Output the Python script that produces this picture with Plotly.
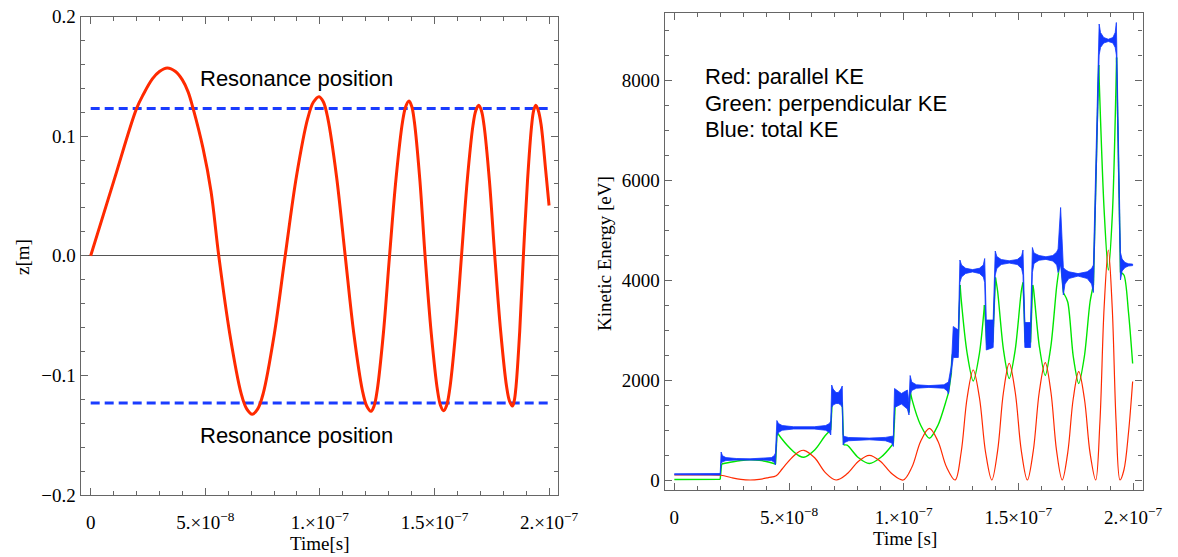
import plotly.graph_objects as go

NS = 1e-9  # nanoseconds -> seconds

# ---------------- left panel: axial position ----------------
z_time_ns = [0, 10, 20, 23, 27, 30, 33.4, 37, 40, 42.5, 44.7, 49, 52.5, 55.88,
             60.75, 65.63, 68.07, 70.5, 72.9, 75.29, 80.07, 84.86,
             89.79, 94.72, 97.19, 99.65, 101.55, 103.45, 107.25, 111.05,
             114.8, 118.55, 120.43, 122.3, 123.65, 125.0, 127.7, 130.4,
             133.23, 136.07, 137.49, 138.9, 140.07, 141.23, 143.57, 145.9,
             148.6, 151.3, 152.65, 154.0, 155.3, 156.6, 159.2, 161.8,
             164.3, 166.8, 168.05, 169.3, 170.47, 171.63, 173.97, 176.3,
             178.87, 181.43, 182.72, 184.0, 184.8, 185.6, 187.2, 188.8,
             190.6, 192.4, 193.3, 194.2, 195.3, 196.5, 198.5, 200.0]
z_pos_m = [0, 0.062, 0.123, 0.135, 0.148, 0.154, 0.157, 0.154, 0.147, 0.137, 0.123, 0.09, 0.054, 0,
           -0.066, -0.115, -0.128, -0.1325, -0.128, -0.115, -0.066, 0,
           0.0665, 0.115, 0.1285, 0.133, 0.1285, 0.115, 0.0665, 0,
           -0.065, -0.1126, -0.1256, -0.130, -0.1256, -0.1126, -0.065, 0,
           0.0647, 0.112, 0.1249, 0.1293, 0.1249, 0.112, 0.0647, 0,
           -0.0648, -0.1122, -0.1252, -0.1296, -0.1252, -0.1122, -0.0648, 0,
           0.0629, 0.109, 0.1215, 0.1258, 0.1215, 0.109, 0.0629, 0,
           -0.0629, -0.1089, -0.1214, -0.1257, -0.1214, -0.1089, -0.0629, 0,
           0.0629, 0.109, 0.1215, 0.1258, 0.1215, 0.11, 0.072, 0.042]
resonance_z_m = [0.123, -0.123]
resonance_span_ns = [0, 200]

# ---------------- right panel: kinetic energies ----------------
par_time_ns = [0, 10, 20.3, 25, 29, 33, 37, 41, 44.4, 47, 49, 52, 54.5, 56.5, 61.17, 65.83,
               70.5, 75.33, 80.17, 85, 89.93, 94.87, 99.8, 103.6, 107.4, 111.2, 114.93, 118.67,
               122.4, 125.03, 127.67, 130.3, 133.0, 135.7, 138.4, 140.93, 143.47, 146.0, 148.63,
               151.27, 153.9, 156.5, 159.1, 161.7, 164.17, 166.63, 169.1, 171.5, 173.9, 176.3,
               178.77, 181.23, 183.7, 185.53, 187.37, 189.2, 190.9, 192.6, 194.3, 196, 198, 199.8]
par_ev = [100, 100, 95, 45, 12, 0, 12, 48, 86, 220, 333, 480, 570, 594, 445, 148,
          0, 124, 370, 494, 370, 124, 0, 258, 775, 1034, 775, 258,
          0, 550, 1650, 2200, 1650, 550, 0, 583, 1750, 2333, 1750,
          583, 0, 587, 1760, 2347, 1760, 587, 0, 542, 1625, 2167,
          1625, 542, 0, 1150, 3450, 4600, 3450, 1150, 0, 200, 950, 1970]

# perpendicular KE: smooth pieces separated by None where the energy jumps
perp_time_ns = [0, 20.0, None,
                20.6, 25, 29, 33, 37, 41, 44.1, None,
                44.8, 47, 49, 52, 54.5, 56.5, 61.17, 65.83, 68.2, None,
                68.8, 71, 73.2, None,
                73.8, 75.33, 80.17, 85, 89.93, 94.87, 95.5, None,
                96.3, 99, 101.8, 102.3, None,
                102.9, 103.6, 107.4, 111.2, 114.93, 118.67, 119.6, None,
                120.8, 121.6, 123.6, None,
                124.6, 125.03, 127.67, 130.3, 133.0, 135.2, None,
                136.2, 138.8, None,
                140.0, 140.93, 143.47, 146.0, 148.63, 151.27, 152.0, None,
                153.0, 155.3, None,
                156.2, 156.5, 159.1, 161.7, 164.17, 166.63, 167.5, None,
                168.4, None,
                169.6, 171.5, 173.9, 176.3, 178.77, 181.23, 182.7, None,
                185.0, 187.37, 189.2, 191.0, 192.8, None,
                194.5, 196, 198, 199.8]
perp_ev = [10, 12, None,
           320, 360, 390, 405, 395, 360, 320, None,
           950, 815, 705, 565, 480, 455, 600, 890, 1000, None,
           1550, 1600, 1550, None,
           700, 696, 450, 330, 450, 696, 740, None,
           1500, 1580, 1500, 1350, None,
           1760, 1612, 1095, 836, 1095, 1612, 1760, None,
           2150, 2550, 2550, None,
           3900, 3630, 2530, 1980, 2530, 3500, None,
           2700, 2750, None,
           4050, 3780, 2610, 2030, 2610, 3780, 3950, None,
           2750, 2750, None,
           3900, 3850, 2680, 2090, 2680, 3850, 4150, None,
           4500, None,
           3750, 3560, 2475, 1930, 2475, 3560, 3900, None,
           8300, 5400, 4200, 5350, 8450, None,
           4150, 4100, 3350, 2330]

# total KE: lower / upper envelope of the fast gyration band, plateau by plateau
tot_time_ns = [0, 20.0,
               20.4, 21.0, 22.5, 27, 33, 39, 42.3, 43.5, 44.1,
               44.7, 45.4, 47, 52, 61, 66, 67.6, 68.2,
               68.6, 69.2, 70.5, 71.5, 72.6, 73.2,
               73.6, 74.2, 76, 85, 92, 94.8, 95.5,
               96.0, 99, 101.6, 102.3,
               102.8, 103.5, 105.5, 111, 117.5, 119.0, 119.5,
               120.8, 121.6, 123.8,
               124.5, 125.2, 127, 130, 133, 134.7, 135.3,
               136.0, 139.0,
               139.9, 140.6, 142.5, 146, 149.5, 151.4, 152.0,
               152.8, 155.3,
               156.1, 156.8, 159, 162, 165, 166.7, 167.3,
               168.4,
               169.6, 170.3, 172, 176, 180, 181.9, 182.7,
               185.2, 185.8, 187.2, 189.2, 191.2, 192.2, 192.7,
               194.5, 195.2, 196.5, 198, 199.8]
tot_lo_ev = [105, 100,
             330, 365, 388, 398, 402, 398, 388, 360, 300,
             880, 950, 995, 1020, 1020, 995, 950, 900,
             1450, 1500, 1530, 1530, 1500, 1450,
             700, 750, 785, 805, 785, 740, 670,
             1450, 1520, 1420, 1300,
             1700, 1790, 1835, 1852, 1835, 1780, 1720,
             2150, 2450, 2450,
             3950, 4060, 4130, 4162, 4130, 4060, 3950,
             2600, 2650,
             4100, 4230, 4310, 4338, 4310, 4230, 4100,
             2650, 2650,
             4150, 4330, 4395, 4412, 4380, 4300, 4150,
             4300,
             3700, 3920, 4030, 4078, 4030, 3920, 3750,
             8500, 8650, 8740, 8770, 8740, 8650, 8500,
             4000, 4180, 4250, 4280, 4288]
tot_hi_ev = [125, 130,
             560, 485, 448, 430, 424, 430, 448, 485, 540,
             1190, 1130, 1090, 1065, 1065, 1090, 1130, 1180,
             1900, 1820, 1750, 1750, 1820, 1880,
             900, 870, 850, 838, 852, 870, 880,
             1830, 1730, 1800, 1550,
             2090, 1960, 1905, 1888, 1905, 1940, 1960,
             2300, 3070, 3000,
             4400, 4300, 4235, 4208, 4235, 4300, 4430,
             3200, 3200,
             4580, 4470, 4410, 4385, 4410, 4480, 4600,
             3150, 3150,
             4650, 4540, 4490, 4465, 4490, 4560, 4620,
             5450,
             4250, 4210, 4165, 4128, 4165, 4230, 4300,
             9120, 8950, 8850, 8815, 8850, 8950, 9150,
             4550, 4420, 4350, 4325, 4318]

# ---------------- ticks ----------------
time_tick_s = [0, 5e-8, 1e-7, 1.5e-7, 2e-7]
time_tick_text = ["0", "5.×10<sup>−8</sup>", "1.×10<sup>−7</sup>",
                  "1.5×10<sup>−7</sup>", "2.×10<sup>−7</sup>"]
z_tick_vals = [-0.2, -0.1, 0.0, 0.1, 0.2]
z_tick_text = ["−0.2", "−0.1", "0.0", "0.1", "0.2"]
ke_tick_vals = [0, 2000, 4000, 6000, 8000]
ke_tick_text = ["0", "2000", "4000", "6000", "8000"]

RED = "#ff2a00"
GREEN = "#00e600"
BLUE = "#1238ff"
SERIF = "Liberation Serif"
SANS = "Liberation Sans"

W, H = 1178, 557


def sec(vals):
    return [None if v is None else v * NS for v in vals]


fig = go.Figure()

# resonance markers
for zr in resonance_z_m:
    fig.add_trace(go.Scatter(x=sec(resonance_span_ns), y=[zr, zr], mode="lines",
                             line=dict(color="#1a3cff", width=3, dash="9px,5px"),
                             xaxis="x", yaxis="y", hoverinfo="skip"))
fig.add_trace(go.Scatter(x=sec(z_time_ns), y=z_pos_m, mode="lines",
                         line=dict(color=RED, width=3, shape="spline", smoothing=1.0),
                         xaxis="x", yaxis="y"))

# perpendicular KE (green): smooth pieces plus straight jumps between pieces
fig.add_trace(go.Scatter(x=sec(perp_time_ns), y=perp_ev, mode="lines",
                         line=dict(color=GREEN, width=1.4, shape="spline", smoothing=0.8),
                         connectgaps=False, xaxis="x2", yaxis="y2"))
jx, jy = [], []
for i, v in enumerate(perp_time_ns):
    if v is None:
        jx += [perp_time_ns[i - 1] * NS, perp_time_ns[i + 1] * NS, None]
        jy += [perp_ev[i - 1], perp_ev[i + 1], None]
fig.add_trace(go.Scatter(x=jx, y=jy, mode="lines", line=dict(color=GREEN, width=1.4),
                         xaxis="x2", yaxis="y2"))

# parallel KE (red)
fig.add_trace(go.Scatter(x=sec(par_time_ns), y=par_ev, mode="lines",
                         line=dict(color=RED, width=1.2, shape="spline", smoothing=1.0),
                         xaxis="x2", yaxis="y2"))

# total KE (blue) band
band_x = sec(tot_time_ns) + sec(tot_time_ns[::-1])
band_y = tot_hi_ev + tot_lo_ev[::-1]
fig.add_trace(go.Scatter(x=band_x, y=band_y, mode="lines", fill="toself",
                         fillcolor=BLUE, line=dict(color=BLUE, width=0.8),
                         xaxis="x2", yaxis="y2"))

tick_font = dict(family=SERIF, size=19, color="black")


def axis_style(**kw):
    d = dict(showline=True, linecolor="#666666", linewidth=1.3, mirror="allticks",
             ticks="inside", ticklen=7, tickwidth=1, tickcolor="#666666",
             showgrid=False, zeroline=False, automargin=False,
             tickfont=tick_font)
    d.update(kw)
    return d


def px_x(p):
    return p / W


def px_y(p):
    return 1 - p / H


minor_x = dict(ticks="inside", ticklen=4, tickcolor="#666666", tickmode="linear",
               tick0=0, dtick=1e-8, showgrid=False)

fig.update_layout(
    width=W, height=H, margin=dict(l=0, r=0, t=0, b=0, autoexpand=False),
    paper_bgcolor="white", plot_bgcolor="white", showlegend=False,
    font=dict(family=SERIF, size=19, color="black"),
    xaxis=axis_style(domain=[px_x(80.7), px_x(558)], range=[-4.36e-9, 2.039e-7],
                     anchor="y", tickmode="array", tickvals=time_tick_s,
                     ticktext=time_tick_text, minor=minor_x, ticklabelstandoff=10),
    yaxis=axis_style(domain=[px_y(495), px_y(16.5)], range=[-0.2, 0.2], anchor="x",
                     tickmode="array", tickvals=z_tick_vals, ticktext=z_tick_text,
                     zeroline=True, zerolinecolor="#555555", zerolinewidth=1,
                     minor=dict(ticks="inside", ticklen=4, tickcolor="#666666",
                                tickmode="linear", tick0=0, dtick=0.02, showgrid=False)),
    xaxis2=axis_style(domain=[px_x(664.7), px_x(1142.5)], range=[-4.2e-9, 2.041e-7],
                      anchor="y2", tickmode="array", tickvals=time_tick_s,
                      ticktext=time_tick_text, minor=minor_x, ticklabelstandoff=10),
    yaxis2=axis_style(domain=[px_y(490), px_y(13.3)], range=[-200, 9334], anchor="x2",
                      tickmode="array", tickvals=ke_tick_vals, ticktext=ke_tick_text,
                      minor=dict(ticks="inside", ticklen=4, tickcolor="#666666",
                                 tickmode="linear", tick0=0, dtick=500, showgrid=False)),
)

ann = []
title_font = dict(family=SERIF, size=19, color="black")
# axis titles
ann.append(dict(text="Time[s]", x=px_x(319), y=px_y(543), xref="paper", yref="paper",
                xanchor="center", yanchor="middle", showarrow=False, font=title_font))
ann.append(dict(text="z[m]", x=px_x(22), y=px_y(257), xref="paper", yref="paper",
                xanchor="center", yanchor="middle", showarrow=False, textangle=-90,
                font=title_font))
ann.append(dict(text="Time [s]", x=px_x(905), y=px_y(538), xref="paper", yref="paper",
                xanchor="center", yanchor="middle", showarrow=False, font=title_font))
ann.append(dict(text="Kinetic Energy [eV]", x=px_x(604), y=px_y(254), xref="paper",
                yref="paper", xanchor="center", yanchor="middle", showarrow=False,
                textangle=-90, font=title_font))
# in-plot labels
label_font = dict(family=SANS, size=22, color="black")
ann.append(dict(text="Resonance position", x=9e-8, y=0.148, xref="x", yref="y",
                xanchor="center", yanchor="middle", showarrow=False, font=label_font))
ann.append(dict(text="Resonance position", x=9e-8, y=-0.150, xref="x", yref="y",
                xanchor="center", yanchor="middle", showarrow=False, font=label_font))
for txt, yv in [("Red: parallel KE", 8060), ("Green: perpendicular KE", 7530),
                ("Blue: total KE", 7000)]:
    ann.append(dict(text=txt, x=1.23e-8, y=yv, xref="x2", yref="y2", xanchor="left",
                    yanchor="middle", showarrow=False, font=label_font))
fig.update_layout(annotations=ann)

fig.write_html("out.html")
